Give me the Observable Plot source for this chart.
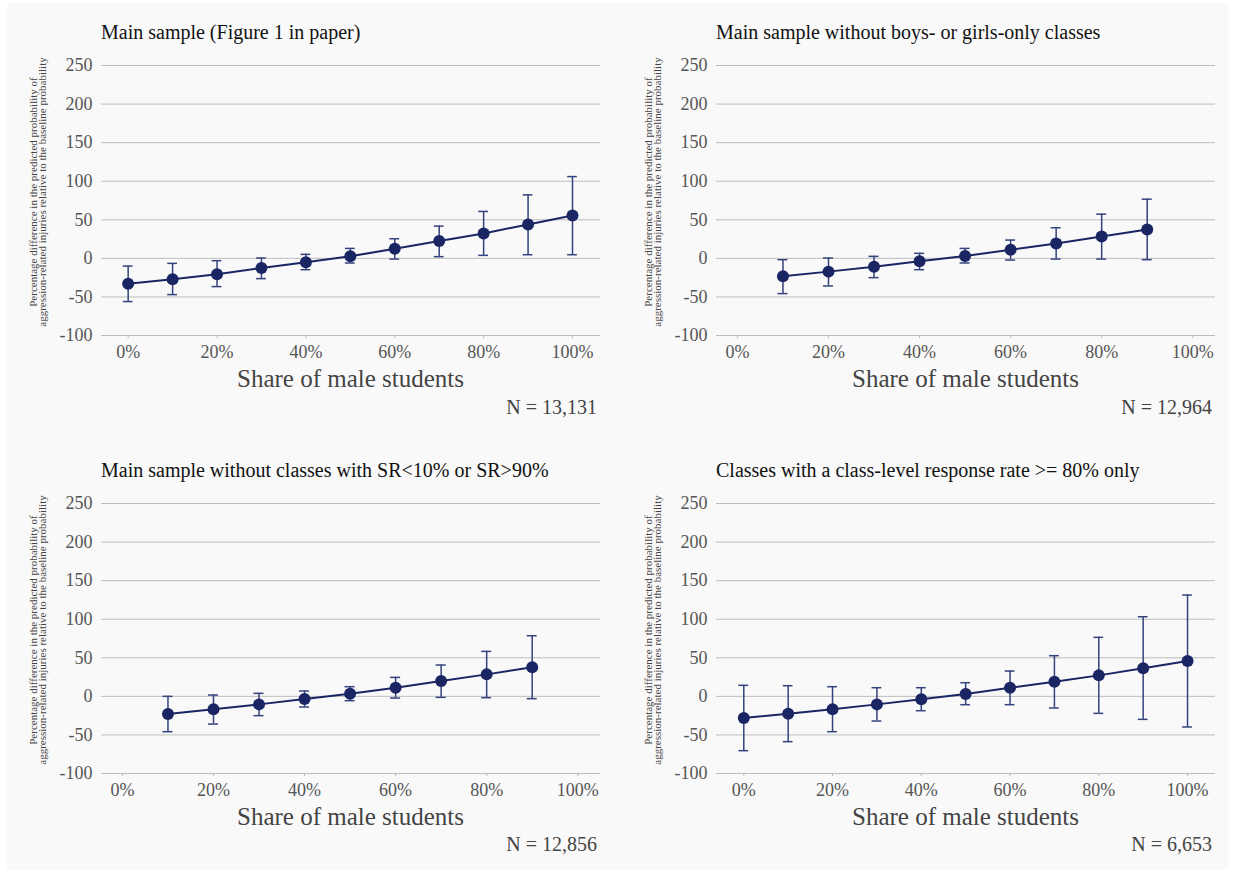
<!DOCTYPE html>
<html>
<head>
<meta charset="utf-8">
<script src="https://cdn.jsdelivr.net/npm/d3@7"></script>
<script src="https://cdn.jsdelivr.net/npm/@observablehq/plot@0.6"></script>
<style>
  body { margin: 0; background: #ffffff; font-family: "Liberation Serif", "DejaVu Serif", serif; }
  #bg { position: absolute; left: 7px; top: 3px; width: 1221px; height: 867px; background: #f9f9f9; }
  .panel { position: absolute; width: 615px; height: 437px; font-family: "Liberation Serif", serif; }
  .title { position: absolute; left: 101px; top: 22px; font-size: 20px; line-height: 20px; color: #111; white-space: nowrap; }
  .xlab { position: absolute; left: 101px; width: 499px; top: 366px; text-align: center; font-size: 25px; line-height: 25px; color: #444; white-space: nowrap; font-family: "Liberation Serif", serif; }
  .nlab { position: absolute; left: 0; width: 597px; top: 396.5px; text-align: right; font-size: 20px; line-height: 20px; color: #444; white-space: nowrap; }
  .ylab { position: absolute; width: 330px; height: 18px; left: -126.7px; top: 183px; transform: rotate(-90deg); transform-origin: 50% 50%;
          text-align: center; font-size: 11px; line-height: 9px; color: #444; white-space: nowrap; }
  .chart { position: absolute; left: 0; top: 50px; }
  .chart text { font-family: "Liberation Serif", serif; }
</style>
</head>
<body>
<div id="bg"></div>
<div id="root"></div>
<script>
// ---- data ----
const shareFull = [0, 0.1, 0.2, 0.3, 0.4, 0.5, 0.6, 0.7, 0.8, 0.9, 1.0];
const shareMid = [0.1, 0.2, 0.3, 0.4, 0.5, 0.6, 0.7, 0.8, 0.9];

const titles = [
  "Main sample (Figure 1 in paper)",
  "Main sample without boys- or girls-only classes",
  "Main sample without classes with SR<10% or SR>90%",
  "Classes with a class-level response rate >= 80% only"
];
const nLabels = ["N = 13,131", "N = 12,964", "N = 12,856", "N = 6,653"];

// Panel 1: main sample
const est1 = [-33, -27, -20.5, -12.5, -5, 2.6, 12.5, 22.4, 32.3, 44, 55.6];
const lo1  = [-56, -47, -36.6, -26.3, -14.7, -6, -0.9, 2.2, 3.9, 4.7, 4.7];
const hi1  = [-10, -6.5, -3, 0.4, 5.2, 12.9, 25.4, 41.8, 60.8, 82.3, 106];

// Panel 2: without boys- or girls-only classes
const est2 = [-23.3, -17.2, -10.8, -3.9, 3, 11.2, 19.4, 28.4, 37.5];
const lo2  = [-45.7, -35.8, -25, -14.7, -6, -2.2, -0.9, -0.9, -1.7];
const hi2  = [-1.7, 0.4, 2.6, 6.5, 12.9, 23.7, 39.7, 57.3, 76.7];

// Panel 3: without classes with SR<10% or SR>90%
const est3 = [-22.9, -16.8, -10.4, -3.5, 3.5, 11.2, 19.9, 28.5, 37.6];
const lo3  = [-45.8, -35.9, -25, -13.8, -5.6, -2.2, -1.3, -1.7, -3];
const hi3  = [0, 1.7, 3.9, 6.9, 12.5, 24.6, 40.6, 58.3, 78.6];

// Panel 4: response rate >= 80%
const est4 = [-28.1, -22.5, -16.8, -10.4, -3.9, 3, 11.2, 19, 27.2, 36.3, 45.8];
const lo4  = [-70.4, -58.7, -45.8, -32, -18.6, -10.8, -10.8, -15.1, -22, -29.8, -39.7];
const hi4  = [14.3, 13.8, 12.5, 11.2, 11.2, 17.7, 32.8, 52.7, 76.5, 103.2, 131.3];

const yTicks = [-100, -50, 0, 50, 100, 150, 200, 250];
const xTicks = [0, 0.2, 0.4, 0.6, 0.8, 1.0];
const yLabelLines = [
  "Percentage difference in the predicted probability of",
  "aggression-related injuries relative to the baseline probability"
];
const xLabel = "Share of male students";

// ---- build ----
const panels = [
  {share: shareFull, est: est1, lo: lo1, hi: hi1, xDomain: [-0.060, 1.063], left: 0, top: 0},
  {share: shareMid,  est: est2, lo: lo2, hi: hi2, xDomain: [-0.046, 1.050], left: 615, top: 0},
  {share: shareMid,  est: est3, lo: lo3, hi: hi3, xDomain: [-0.046, 1.050], left: 0, top: 437.5},
  {share: shareFull, est: est4, lo: lo4, hi: hi4, xDomain: [-0.0615, 1.063], left: 615, top: 437.5}
];

const navy = "#1a2663";
const barColor = "#34437d";
const cap = 0.011;
const root = document.getElementById("root");

panels.forEach((p, i) => {
  const rows = p.share.map((x, j) => ({x, y: p.est[j], lo: p.lo[j], hi: p.hi[j]}));
  const div = document.createElement("div");
  div.className = "panel";
  div.style.left = p.left + "px";
  div.style.top = p.top + "px";

  const t = document.createElement("div");
  t.className = "title";
  t.textContent = titles[i];
  div.appendChild(t);

  const yl = document.createElement("div");
  yl.className = "ylab";
  yl.innerHTML = yLabelLines.join("<br>");
  div.appendChild(yl);

  const chart = Plot.plot({
    width: 610,
    height: 320,
    marginLeft: 101,
    marginRight: 10,
    marginTop: 15,
    marginBottom: 35,
    style: {background: "transparent", fontFamily: "'Liberation Serif', serif", fontSize: "18px", color: "#555", overflow: "visible"},
    x: {domain: p.xDomain},
    y: {domain: [-100, 250]},
    marks: [
      Plot.gridY(yTicks, {stroke: "#bdbdbd", strokeOpacity: 1, strokeWidth: 1}),
      Plot.axisY(yTicks, {tickSize: 0, tickPadding: 9, label: null, fill: "#555", tickFormat: d => String(d)}),
      Plot.axisX(xTicks, {tickSize: 3, tickPadding: 6.5, label: null, stroke: "#bbb", fill: "#555", tickFormat: d3.format(".0%")}),
      Plot.ruleX(rows, {x: "x", y1: "lo", y2: "hi", stroke: barColor, strokeWidth: 1.5}),
      Plot.ruleY(rows, {y: "hi", x1: d => d.x - cap, x2: d => d.x + cap, stroke: barColor, strokeWidth: 1.5}),
      Plot.ruleY(rows, {y: "lo", x1: d => d.x - cap, x2: d => d.x + cap, stroke: barColor, strokeWidth: 1.5}),
      Plot.line(rows, {x: "x", y: "y", stroke: navy, strokeWidth: 2}),
      Plot.dot(rows, {x: "x", y: "y", r: 6, fill: navy, stroke: "none"})
    ]
  });
  chart.classList.add("chart");
  div.appendChild(chart);

  const xl = document.createElement("div");
  xl.className = "xlab";
  xl.textContent = xLabel;
  div.appendChild(xl);

  const nl = document.createElement("div");
  nl.className = "nlab";
  nl.textContent = nLabels[i];
  div.appendChild(nl);

  root.appendChild(div);
});
</script>
</body>
</html>
